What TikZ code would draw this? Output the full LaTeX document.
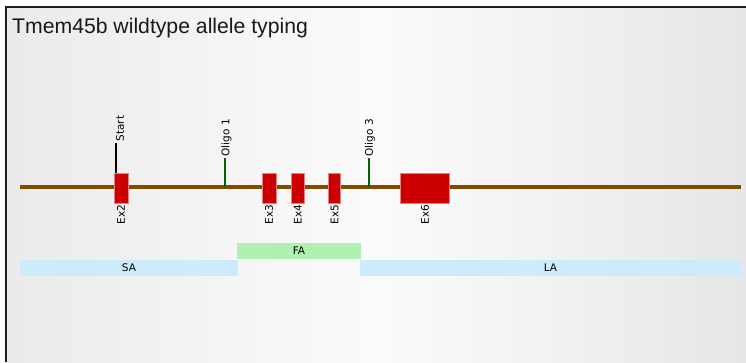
\documentclass[tikz,border=0pt]{standalone}
\usepackage{fontspec}
\setmainfont{Liberation Sans}
\newfontfamily\tagfont{DejaVu Sans}
\usetikzlibrary{positioning}
\definecolor{ExonRed}{RGB}{204,0,0}
\definecolor{Backbone}{RGB}{128,77,0}
\definecolor{OligoGreen}{RGB}{0,100,0}
\definecolor{ArmBlue}{RGB}{204,236,252}
\definecolor{ArmGreen}{RGB}{176,240,176}
\definecolor{Frame}{RGB}{30,30,30}

\begin{document}
\begin{tikzpicture}[
    x=1pt, y=-1pt,
    exon/.style={fill=ExonRed, draw=ExonRed!50!white, line width=0.6pt, minimum height=30pt, inner sep=0pt},
    tag/.style={font=\tagfont\fontsize{10.5}{12}\selectfont, rotate=90, inner sep=1.5pt},
    marker/.style={line width=2pt},
    arm/.style={minimum height=16pt, inner sep=0pt, font=\tagfont\fontsize{10.5}{12}\selectfont},
]
    \useasboundingbox (0,0) rectangle (746,362);

    % Background and frame
    \fill[white] (0,0) rectangle (746,362);
    \shade[left color=gray!16, right color=gray!19, middle color=gray!3] (6,7) rectangle (746,362);
    \draw[Frame, line width=1.5pt] (6,362) -- (6,7) -- (746,7);

    % Title
    \node[anchor=base west, inner sep=0pt, text=black!90, font=\fontsize{21.2}{24}\selectfont] (title) at (12,33) {Tmem45b wildtype allele typing};

    % Backbone
    \coordinate (bb west) at (20,187);
    \coordinate (bb east) at (741,187);
    \draw[Backbone!60!white, line width=4.6pt] (bb west) -- (bb east);
    \draw[Backbone, line width=3.4pt] (bb west) -- (bb east);

    % Start and oligo markers
    \coordinate (start foot) at (116,174);
    \node[tag, anchor=west] (start) at (120,143) {Start};
    \draw[marker, black] (start foot) -- (start foot |- start.west);

    \coordinate (oligo1 foot) at (225,187);
    \node[tag, anchor=west] (oligo1) at (226.5,158) {Oligo 1};
    \draw[marker, OligoGreen] (oligo1 foot) -- (oligo1 foot |- oligo1.west);

    \coordinate (oligo3 foot) at (369,187);
    \node[tag, anchor=west] (oligo3) at (370,158) {Oligo 3};
    \draw[marker, OligoGreen] (oligo3 foot) -- (oligo3 foot |- oligo3.west);

    % Exons
    \node[exon, minimum width=14pt] (ex2) at (121,188) {};
    \node[exon, minimum width=14pt] (ex3) at (269,188) {};
    \node[exon, minimum width=13.5pt] (ex4) at (297.75,188) {};
    \node[exon, minimum width=12pt] (ex5) at (334.5,188) {};
    \node[exon, minimum width=49pt] (ex6) at (425,188) {};

    % Exon labels
    \foreach \e/\lab in {ex2/Ex2, ex3/Ex3, ex4/Ex4, ex5/Ex5, ex6/Ex6}
        \node[tag, anchor=east] (\e lab) at (\e.south) {\lab};

    % Homology arms
    \node[arm, fill=ArmGreen, minimum width=124pt] (fa) at (299,251) {FA};
    \node[arm, fill=ArmBlue, minimum width=218pt] (sa) at (129,268) {SA};
    \node[arm, fill=ArmBlue, minimum width=381pt] (la) at (550.5,268) {LA};

\end{tikzpicture}
\end{document}
